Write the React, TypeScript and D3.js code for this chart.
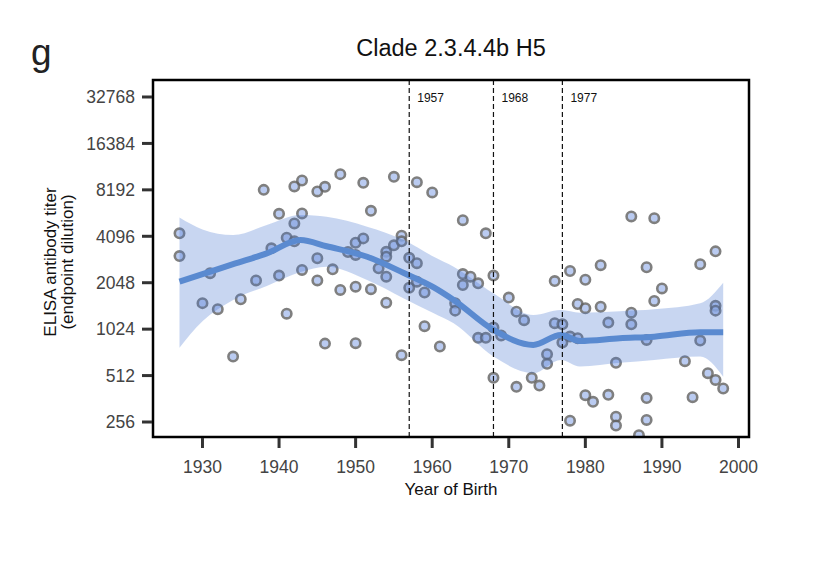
import * as d3 from 'd3';

// Scatter: one point per donor (birth year, ELISA endpoint titer).
const birthYears = [
  1927, 1927, 1931, 1930, 1932, 1934, 1935, 1937, 1938, 1939,
  1940, 1940, 1941, 1941, 1942, 1942, 1942, 1943, 1943, 1943,
  1945, 1946, 1945, 1945, 1946, 1947, 1948, 1948, 1949, 1950,
  1950, 1950, 1950, 1951, 1951, 1952, 1952, 1953, 1954, 1954,
  1954, 1954, 1955, 1955, 1956, 1956, 1956, 1957, 1957, 1958,
  1958, 1958, 1959, 1959, 1960, 1961, 1964, 1967, 1964, 1965,
  1964, 1966, 1963, 1963, 1966, 1967, 1968, 1968, 1969, 1968,
  1970, 1971, 1972, 1971, 1973, 1974, 1975, 1975, 1976, 1976,
  1977, 1977, 1978, 1978, 1979, 1978, 1979, 1980, 1980, 1980,
  1981, 1982, 1982, 1983, 1984, 1983, 1984, 1984, 1986, 1986,
  1986, 1987, 1989, 1988, 1989, 1990, 1988, 1988, 1988, 1993,
  1994, 1995, 1995, 1997, 1997, 1997, 1996, 1997, 1998,
];
const titers = [
  4280, 3050, 2360, 1510, 1380, 680, 1600, 2120, 8190, 3420,
  5730, 2280, 1290, 4010, 8620, 4960, 3800, 9420, 5760, 2480,
  8000, 8570, 2950, 2120, 825, 2500, 10360, 1840, 3240, 3720,
  3100, 1930, 830, 9100, 3970, 5990, 1860, 2540, 3250, 3020,
  2240, 1520, 9950, 3580, 4130, 3800, 694, 2970, 1900, 2740,
  9190, 2080, 1770, 1070, 7880, 790, 5210, 4280, 2330, 2240,
  1980, 2030, 1510, 1350, 900, 900, 2280, 1050, 930, 495,
  1640, 1330, 1170, 433, 495, 441, 704, 610, 2100, 1120,
  1100, 838, 2440, 261, 1490, 916, 894, 2140, 1400, 382,
  346, 2660, 1430, 1130, 619, 384, 277, 243, 5510, 1310,
  1100, 210, 5370, 2580, 1560, 1880, 872, 366, 264, 635,
  371, 2700, 863, 3270, 1450, 1350, 531, 480, 422,
];

// LOESS fit and its confidence band, read at these birth years.
const fitYears = [
  1927, 1930, 1934, 1938.4, 1942.8, 1946.2, 1951.5, 1956.3, 1960.2,
  1962.8, 1968, 1973.2, 1976.8, 1979.3, 1984.5, 1989, 1995, 1998,
];
const fitTiter = [
  2080, 2325, 2700, 3174, 3870, 3530, 3017, 2367, 1910,
  1583, 1012, 809, 939, 859, 894, 915, 978, 978,
];
const ciUpper = [
  5427, 4540, 4170, 4840, 5619, 5476, 4726, 3870, 3017,
  2600, 1748, 1265, 1364, 1310, 1340, 1378, 1506, 2048,
];
const ciLower = [
  777, 1150, 1583, 1950, 2400, 2600, 2133, 1620, 1298,
  1118, 680, 531, 647, 586, 620, 647, 680, 504,
];

const yTicks = [256, 512, 1024, 2048, 4096, 8192, 16384, 32768];
const xTicks = [1930, 1940, 1950, 1960, 1970, 1980, 1990, 2000];
const pandemicYears = ['1957', '1968', '1977'];

const WIDTH = 816;
const HEIGHT = 574;
const PLOT = { left: 153, right: 749, top: 80, bottom: 437 };
const FONT = '"Liberation Sans", Arial, sans-serif';

export default function App() {
  const x = d3
    .scaleLinear()
    .domain([1923.54, 2001.37])
    .range([PLOT.left, PLOT.right]);

  const y = d3
    .scaleLog()
    .base(2)
    .domain([Math.pow(2, 7.677), Math.pow(2, 15.366)])
    .range([PLOT.bottom, PLOT.top]);

  const fitLine = d3
    .line<number>()
    .x((_, i) => x(fitYears[i]))
    .y(v => y(v))
    .curve(d3.curveMonotoneX);

  const band = d3
    .area<number>()
    .x((_, i) => x(fitYears[i]))
    .y0((_, i) => y(ciLower[i]))
    .y1(v => y(v))
    .curve(d3.curveMonotoneX);

  return (
    <svg
      width={WIDTH}
      height={HEIGHT}
      style={{ position: 'absolute', left: 0, top: 0, fontFamily: FONT }}
    >
      <defs>
        <clipPath id="plot-clip">
          <rect
            x={PLOT.left}
            y={PLOT.top}
            width={PLOT.right - PLOT.left}
            height={PLOT.bottom - PLOT.top}
          />
        </clipPath>
      </defs>
      <rect width={WIDTH} height={HEIGHT} fill="white" />

      {/* Panel letter and title */}
      <text x={31} y={65} fontSize={37} fill="#222">
        g
      </text>
      <text
        x={(PLOT.left + PLOT.right) / 2}
        y={56}
        fontSize={23.5}
        textAnchor="middle"
        fill="#111"
      >
        Clade 2.3.4.4b H5
      </text>

      <g clipPath="url(#plot-clip)">
        {/* Donor points */}
        {titers.map((t, i) => (
          <circle
            key={`pt-${i}`}
            cx={x(birthYears[i])}
            cy={y(t)}
            r={4.7}
            fill="#a9bfee"
            stroke="#606060"
            strokeWidth={2.6}
            opacity={0.8}
          />
        ))}

        {/* Confidence band and fit */}
        <path d={band(ciUpper) ?? ''} fill="#4878d0" opacity={0.3} />
        <path
          d={fitLine(fitTiter) ?? ''}
          fill="none"
          stroke="#5a8ad0"
          strokeWidth={6}
          strokeLinejoin="round"
        />
      </g>

      {/* Pandemic markers */}
      {pandemicYears.map(yr => (
        <g key={`pan-${yr}`}>
          <line
            x1={x(+yr)}
            x2={x(+yr)}
            y1={PLOT.top}
            y2={PLOT.bottom}
            stroke="#111"
            strokeWidth={1.2}
            strokeDasharray="5,3"
          />
          <text x={x(+yr) + 8} y={101.5} fontSize={12} fill="#111">
            {yr}
          </text>
        </g>
      ))}

      {/* Frame */}
      <rect
        x={PLOT.left}
        y={PLOT.top}
        width={PLOT.right - PLOT.left}
        height={PLOT.bottom - PLOT.top}
        fill="none"
        stroke="#000"
        strokeWidth={2.5}
      />

      {/* Y axis */}
      {yTicks.map(t => (
        <g key={`yt-${t}`}>
          <line
            x1={PLOT.left - 11}
            x2={PLOT.left - 1}
            y1={y(t)}
            y2={y(t)}
            stroke="#333"
            strokeWidth={3}
          />
          <text
            x={PLOT.left - 18}
            y={y(t)}
            dy="0.36em"
            fontSize={17.5}
            textAnchor="end"
            fill="#444"
          >
            {t}
          </text>
        </g>
      ))}

      {/* X axis */}
      {xTicks.map(t => (
        <g key={`xt-${t}`}>
          <line
            x1={x(t)}
            x2={x(t)}
            y1={PLOT.bottom + 1}
            y2={PLOT.bottom + 11}
            stroke="#333"
            strokeWidth={3}
          />
          <text
            x={x(t)}
            y={473}
            fontSize={17.5}
            textAnchor="middle"
            fill="#444"
          >
            {t}
          </text>
        </g>
      ))}

      <text
        x={(PLOT.left + PLOT.right) / 2}
        y={495}
        fontSize={17}
        textAnchor="middle"
        fill="#111"
      >
        Year of Birth
      </text>
      <g transform="translate(0, 262) rotate(-90)">
        <text x={0} y={56} fontSize={17} textAnchor="middle" fill="#111">
          ELISA antibody titer
        </text>
        <text x={0} y={73} fontSize={17} textAnchor="middle" fill="#111">
          (endpoint dilution)
        </text>
      </g>
    </svg>
  );
}
